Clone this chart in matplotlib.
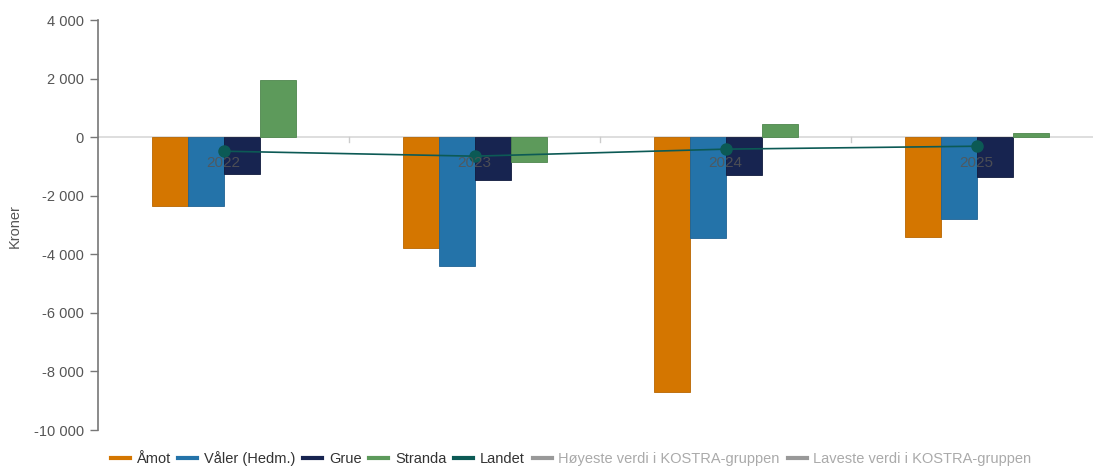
import matplotlib
matplotlib.use("Agg")
import matplotlib.pyplot as plt
from matplotlib.lines import Line2D
import numpy as np

categories = ["2022", "2023", "2024", "2025"]
amot = [-2350, -3790, -8700, -3410]
valer = [-2360, -4400, -3450, -2800]
grue = [-1260, -1470, -1300, -1370]
stranda = [1950, -850, 440, 140]
landet = [-480, -650, -410, -310]
yticks = [4000, 2000, 0, -2000, -4000, -6000, -8000, -10000]
ytick_labels = ["4 000", "2 000", "0", "-2 000", "-4 000", "-6 000", "-8 000", "-10 000"]

series = [("Åmot", amot, "#d47600", "#b86600"),
          ("Våler (Hedm.)", valer, "#2473a9", "#1f6394"),
          ("Grue", grue, "#172450", "#101a3d"),
          ("Stranda", stranda, "#5d9a5b", "#4e864d")]
landet_color = "#0c5a55"

plt.rcParams['font.family'] = ['Liberation Sans', 'DejaVu Sans']
fig = plt.figure(figsize=(10.93, 4.66), dpi=100)
ax = fig.add_axes([98/1093, 1-430/466, 1004/1093, 410/466])

x = np.arange(len(categories))
bw = 36/251
for i, (name, vals, col, ec) in enumerate(series):
    ax.bar(x + (i - 1.5) * bw, vals, width=bw, color=col, edgecolor=ec, linewidth=0.6, zorder=2)

ax.plot(x, landet, color=landet_color, linewidth=1.2, marker='o', markersize=8, zorder=4)

ax.set_xlim(-0.5, 3.5)
ax.set_ylim(-10000, 4000)

ax.axhline(0, color="#d8d8d8", linewidth=1.2, zorder=1)
for s in ["top", "right", "bottom"]:
    ax.spines[s].set_visible(False)
ax.spines["left"].set_color("#777777")
ax.spines["left"].set_linewidth(1.2)
ax.set_yticks(yticks)
ax.set_yticklabels(ytick_labels, fontsize=10.5, color="#555555")
ax.tick_params(axis='y', length=6, color="#777777", width=1, pad=4)

ax.set_xticks([0.5, 1.5, 2.5])
ax.set_xticklabels([])
ax.tick_params(axis='x', length=0)
for xi in [0.5, 1.5, 2.5]:
    ax.plot([xi, xi], [0, -150], color="#cccccc", linewidth=1, zorder=1)
for xi, lab in zip(x, categories):
    ax.text(xi, -870, lab, ha='center', va='center', fontsize=11, color="#555555", alpha=0.85, zorder=5)

fig.text(15/1093, 1-226/466, "Kroner", rotation=90, ha='center', va='center', fontsize=10.5, color="#555555")

handles = [Line2D([], [], color=c, linewidth=3) for _, _, c, _ in series]
handles.append(Line2D([], [], color=landet_color, linewidth=3))
handles.append(Line2D([], [], color="#999999", linewidth=3))
handles.append(Line2D([], [], color="#999999", linewidth=3))
labels = [s[0] for s in series] + ["Landet", "Høyeste verdi i KOSTRA-gruppen", "Laveste verdi i KOSTRA-gruppen"]
leg = fig.legend(handles, labels, loc='center', bbox_to_anchor=(571/1093, 1-459/466), ncol=7,
                 frameon=False, fontsize=10.5, handlelength=1.3, handletextpad=0.45, columnspacing=0.55)
for t in leg.get_texts()[:5]:
    t.set_color("#333333")
for t in leg.get_texts()[5:]:
    t.set_color("#aaaaaa")

fig.savefig("out.png", dpi=100)
